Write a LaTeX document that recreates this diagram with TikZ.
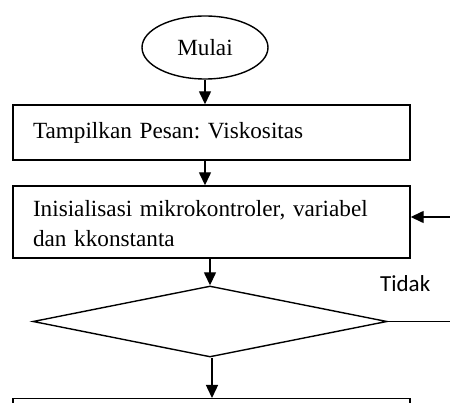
\documentclass[tikz,border=0pt]{standalone}
\usepackage{fontspec}
\setmainfont{Liberation Serif}
\newfontfamily\calib{Carlito}
\usetikzlibrary{shapes.geometric,arrows.meta}
\frenchspacing
\begin{document}
\begin{tikzpicture}[x=1pt,y=-1pt,
  every node/.style={font=\fontsize{23.2}{30}\selectfont},
  lin/.style={draw, line width=1.4pt},
  arr/.style={-{Triangle[length=13pt,width=12pt]}, line width=1.4pt},
  boxs/.style={draw, rectangle, line width=1.4pt, minimum width=397pt, inner sep=0pt},
  lbl/.style={font=\calib\fontsize{23}{28}\selectfont, anchor=base west, inner sep=0pt}]
\useasboundingbox (0,0) rectangle (450,403);

\node[draw, ellipse, line width=1.4pt, minimum width=126pt, minimum height=63pt, inner sep=0pt] (mulai) at (205,47.5) {Mulai};
\node[boxs, minimum height=55pt, text width=357pt, align=left] (box1) at (211.5,132.5) {\frenchspacing Tampilkan Pesan: Viskositas};
\node[boxs, minimum height=72pt, text width=357pt, align=left] (box2) at (211.5,222) {\frenchspacing\rule{0pt}{19pt}Inisialisasi mikrokontroler, variabel\\ dan kkonstanta};
\node[draw, diamond, line width=1.4pt, minimum width=354pt, minimum height=71pt, inner sep=0pt] (dia) at (210,321.5) {};
\node[boxs, minimum height=40pt, anchor=north] (box3) at (211.5,398) {};
\node[lbl] (tidak) at (380,292) {Tidak};

\coordinate (re) at (450,321.5);
\coordinate (rin) at (450,217);

\draw[arr] (mulai.south) -- (mulai.south |- box1.north);
\draw[arr] (box1.south -| mulai.south) -- (box2.north -| mulai.south);
\draw[arr] (box2.south -| dia.north) -- (dia.north);
\draw[arr] ([xshift=2pt]dia.south) -- ([xshift=2pt]dia.south |- box3.north);
\draw[lin] (dia.east) -- (re);
\draw[arr] (rin) -- (rin -| box2.east);
\end{tikzpicture}
\end{document}
